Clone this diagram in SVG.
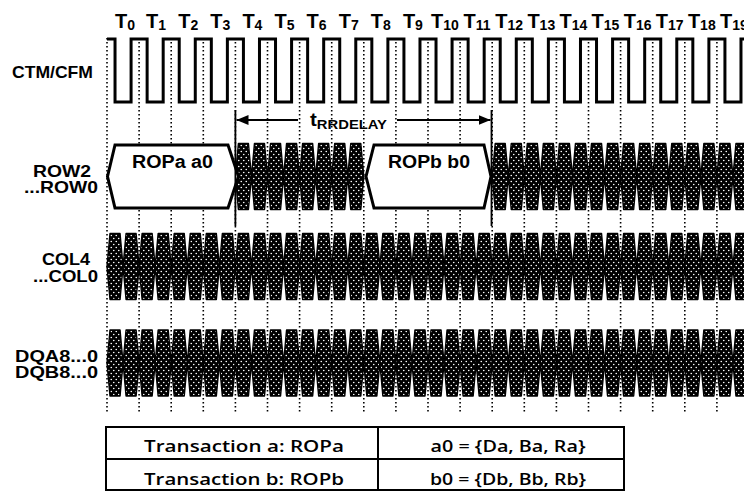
<svg xmlns="http://www.w3.org/2000/svg" width="744" height="492" viewBox="0 0 744 492">
<style>
text{font-family:"Liberation Sans",Arial,sans-serif;font-weight:bold;fill:#000}
.tl{font-size:20px;text-anchor:middle}
.sub{font-size:14px}
.lab{font-size:16.5px;text-anchor:end}
.box{font-size:18px}
.tbl{font-family:"Open Sans","Liberation Sans",sans-serif;font-weight:600;font-size:17px;text-anchor:middle}
.dot{fill:none;stroke:#000;stroke-width:1.6;stroke-dasharray:1.6 2.4}
.clk{fill:none;stroke:#000;stroke-width:3;stroke-linejoin:miter}
.hatch{fill:url(#dots);stroke:#000;stroke-width:1.4;stroke-linejoin:round}
.bus{fill:#fff;stroke:#000;stroke-width:3;stroke-linejoin:miter}
.mark{fill:none;stroke:#000;stroke-width:1.8}
.grid{fill:none;stroke:#000;stroke-width:2}
</style>
<defs>
<pattern id="dots" width="5" height="6" patternUnits="userSpaceOnUse">
<rect width="5" height="6" fill="#000"/>
<circle cx="1.25" cy="1.5" r="0.8" fill="#fff"/>
<circle cx="3.75" cy="4.5" r="0.8" fill="#fff"/>
</pattern>
<marker id="ah" viewBox="0 0 12 10" refX="12" refY="5" markerWidth="12" markerHeight="10" markerUnits="userSpaceOnUse" orient="auto">
<path d="M0,0 L12,5 L0,10 z" fill="#000"/>
</marker>
</defs>
<rect width="744" height="492" fill="#fff"/>

<g id="time-labels">
<text class="tl" x="125" y="28">T<tspan class="sub" dy="1.5">0</tspan></text>
<text class="tl" x="156.1" y="28">T<tspan class="sub" dy="1.5">1</tspan></text>
<text class="tl" x="188.2" y="28">T<tspan class="sub" dy="1.5">2</tspan></text>
<text class="tl" x="220.3" y="28">T<tspan class="sub" dy="1.5">3</tspan></text>
<text class="tl" x="252.4" y="28">T<tspan class="sub" dy="1.5">4</tspan></text>
<text class="tl" x="284.5" y="28">T<tspan class="sub" dy="1.5">5</tspan></text>
<text class="tl" x="316.6" y="28">T<tspan class="sub" dy="1.5">6</tspan></text>
<text class="tl" x="348.7" y="28">T<tspan class="sub" dy="1.5">7</tspan></text>
<text class="tl" x="380.8" y="28">T<tspan class="sub" dy="1.5">8</tspan></text>
<text class="tl" x="412.9" y="28">T<tspan class="sub" dy="1.5">9</tspan></text>
<text class="tl" x="445" y="28">T<tspan class="sub" dy="1.5">10</tspan></text>
<text class="tl" x="477.1" y="28">T<tspan class="sub" dy="1.5">11</tspan></text>
<text class="tl" x="509.2" y="28">T<tspan class="sub" dy="1.5">12</tspan></text>
<text class="tl" x="541.3" y="28">T<tspan class="sub" dy="1.5">13</tspan></text>
<text class="tl" x="573.4" y="28">T<tspan class="sub" dy="1.5">14</tspan></text>
<text class="tl" x="605.5" y="28">T<tspan class="sub" dy="1.5">15</tspan></text>
<text class="tl" x="637.6" y="28">T<tspan class="sub" dy="1.5">16</tspan></text>
<text class="tl" x="669.7" y="28">T<tspan class="sub" dy="1.5">17</tspan></text>
<text class="tl" x="701.8" y="28">T<tspan class="sub" dy="1.5">18</tspan></text>
<text class="tl" x="733.9" y="28">T<tspan class="sub" dy="1.5">19</tspan></text>
</g>

<g id="signal-labels">
<text class="lab" x="93" y="78" textLength="81" lengthAdjust="spacingAndGlyphs">CTM/CFM</text>
<text class="lab" x="91" y="177" textLength="58" lengthAdjust="spacingAndGlyphs">ROW2</text>
<text class="lab" x="98" y="193" textLength="74" lengthAdjust="spacingAndGlyphs">...ROW0</text>
<text class="lab" x="90" y="265" textLength="48" lengthAdjust="spacingAndGlyphs">COL4</text>
<text class="lab" x="98" y="282" textLength="65" lengthAdjust="spacingAndGlyphs">...COL0</text>
<text class="lab" x="98" y="362" textLength="83" lengthAdjust="spacingAndGlyphs">DQA8...0</text>
<text class="lab" x="98" y="378" textLength="83" lengthAdjust="spacingAndGlyphs">DQB8...0</text>
</g>

<g id="grid-lines">
<path class="dot" d="M107,38V414M139.1,38V414M171.2,38V414M203.3,38V414M235.4,38V414M267.5,38V414M299.6,38V414M331.7,38V414M363.8,38V414M395.9,38V414M428,38V414M460.1,38V414M492.2,38V414M524.3,38V414M556.4,38V414M588.5,38V414M620.6,38V414M652.7,38V414M684.8,38V414M716.9,38V414"/>
</g>

<g id="clock">
<path class="clk" d="M107,39 H115.03 V102 H131.08 V39 H147.13 V102 H163.18 V39 H179.23 V102 H195.28 V39 H211.33 V102 H227.38 V39 H243.43 V102 H259.48 V39 H275.53 V102 H291.58 V39 H307.63 V102 H323.68 V39 H339.73 V102 H355.78 V39 H371.83 V102 H387.88 V39 H403.93 V102 H419.98 V39 H436.03 V102 H452.08 V39 H468.13 V102 H484.18 V39 H500.23 V102 H516.28 V39 H532.33 V102 H548.38 V39 H564.43 V102 H580.48 V39 H596.53 V102 H612.58 V39 H628.63 V102 H644.68 V39 H660.73 V102 H676.78 V39 H692.83 V102 H708.88 V39 H724.93 V102 H740.98 V39 H748"/>
</g>

<g id="row-bus">
<path class="hatch" d="M235.4 176.5l3-33h10.05l3 33l-3 33h-10.05zm16.05 0l3-33h10.05l3 33l-3 33h-10.05zm16.05 0l3-33h10.05l3 33l-3 33h-10.05zm16.05 0l3-33h10.05l3 33l-3 33h-10.05zm16.05 0l3-33h10.05l3 33l-3 33h-10.05zm16.05 0l3-33h10.05l3 33l-3 33h-10.05zm16.05 0l3-33h10.05l3 33l-3 33h-10.05zm16.05 0l3-33h10.05l3 33l-3 33h-10.05zM492.2 176.5l3-33h10.05l3 33l-3 33h-10.05zm16.05 0l3-33h10.05l3 33l-3 33h-10.05zm16.05 0l3-33h10.05l3 33l-3 33h-10.05zm16.05 0l3-33h10.05l3 33l-3 33h-10.05zm16.05 0l3-33h10.05l3 33l-3 33h-10.05zm16.05 0l3-33h10.05l3 33l-3 33h-10.05zm16.05 0l3-33h10.05l3 33l-3 33h-10.05zm16.05 0l3-33h10.05l3 33l-3 33h-10.05zm16.05 0l3-33h10.05l3 33l-3 33h-10.05zm16.05 0l3-33h10.05l3 33l-3 33h-10.05zm16.05 0l3-33h10.05l3 33l-3 33h-10.05zm16.05 0l3-33h10.05l3 33l-3 33h-10.05zm16.05 0l3-33h10.05l3 33l-3 33h-10.05zm16.05 0l3-33h10.05l3 33l-3 33h-10.05zm16.05 0l3-33h10.05l3 33l-3 33h-10.05zm16.05 0l3-33h10.05l3 33l-3 33h-10.05z"/>
<g id="ropa">
<path class="bus" d="M107.5,176.5 L115,145 H228 L238.5,176.5 L228,208 H115 Z"/>
<text class="box" x="132" y="168" textLength="81" lengthAdjust="spacingAndGlyphs">ROPa a0</text>
</g>
<g id="ropb">
<path class="bus" d="M366,176.5 L374,145 H484 L491,176.5 L484,208 H374 Z"/>
<text class="box" x="388" y="168" textLength="82" lengthAdjust="spacingAndGlyphs">ROPb b0</text>
</g>
</g>

<g id="col-bus">
<path class="hatch" d="M107 266.5l3-33h10.05l3 33l-3 33h-10.05zm16.05 0l3-33h10.05l3 33l-3 33h-10.05zm16.05 0l3-33h10.05l3 33l-3 33h-10.05zm16.05 0l3-33h10.05l3 33l-3 33h-10.05zm16.05 0l3-33h10.05l3 33l-3 33h-10.05zm16.05 0l3-33h10.05l3 33l-3 33h-10.05zm16.05 0l3-33h10.05l3 33l-3 33h-10.05zm16.05 0l3-33h10.05l3 33l-3 33h-10.05zm16.05 0l3-33h10.05l3 33l-3 33h-10.05zm16.05 0l3-33h10.05l3 33l-3 33h-10.05zm16.05 0l3-33h10.05l3 33l-3 33h-10.05zm16.05 0l3-33h10.05l3 33l-3 33h-10.05zm16.05 0l3-33h10.05l3 33l-3 33h-10.05zm16.05 0l3-33h10.05l3 33l-3 33h-10.05zm16.05 0l3-33h10.05l3 33l-3 33h-10.05zm16.05 0l3-33h10.05l3 33l-3 33h-10.05zm16.05 0l3-33h10.05l3 33l-3 33h-10.05zm16.05 0l3-33h10.05l3 33l-3 33h-10.05zm16.05 0l3-33h10.05l3 33l-3 33h-10.05zm16.05 0l3-33h10.05l3 33l-3 33h-10.05zm16.05 0l3-33h10.05l3 33l-3 33h-10.05zm16.05 0l3-33h10.05l3 33l-3 33h-10.05zm16.05 0l3-33h10.05l3 33l-3 33h-10.05zm16.05 0l3-33h10.05l3 33l-3 33h-10.05zm16.05 0l3-33h10.05l3 33l-3 33h-10.05zm16.05 0l3-33h10.05l3 33l-3 33h-10.05zm16.05 0l3-33h10.05l3 33l-3 33h-10.05zm16.05 0l3-33h10.05l3 33l-3 33h-10.05zm16.05 0l3-33h10.05l3 33l-3 33h-10.05zm16.05 0l3-33h10.05l3 33l-3 33h-10.05zm16.05 0l3-33h10.05l3 33l-3 33h-10.05zm16.05 0l3-33h10.05l3 33l-3 33h-10.05zm16.05 0l3-33h10.05l3 33l-3 33h-10.05zm16.05 0l3-33h10.05l3 33l-3 33h-10.05zm16.05 0l3-33h10.05l3 33l-3 33h-10.05zm16.05 0l3-33h10.05l3 33l-3 33h-10.05zm16.05 0l3-33h10.05l3 33l-3 33h-10.05zm16.05 0l3-33h10.05l3 33l-3 33h-10.05zm16.05 0l3-33h10.05l3 33l-3 33h-10.05zm16.05 0l3-33h10.05l3 33l-3 33h-10.05z"/>
</g>

<g id="dq-bus">
<path class="hatch" d="M107 363l3-33h10.05l3 33l-3 33h-10.05zm16.05 0l3-33h10.05l3 33l-3 33h-10.05zm16.05 0l3-33h10.05l3 33l-3 33h-10.05zm16.05 0l3-33h10.05l3 33l-3 33h-10.05zm16.05 0l3-33h10.05l3 33l-3 33h-10.05zm16.05 0l3-33h10.05l3 33l-3 33h-10.05zm16.05 0l3-33h10.05l3 33l-3 33h-10.05zm16.05 0l3-33h10.05l3 33l-3 33h-10.05zm16.05 0l3-33h10.05l3 33l-3 33h-10.05zm16.05 0l3-33h10.05l3 33l-3 33h-10.05zm16.05 0l3-33h10.05l3 33l-3 33h-10.05zm16.05 0l3-33h10.05l3 33l-3 33h-10.05zm16.05 0l3-33h10.05l3 33l-3 33h-10.05zm16.05 0l3-33h10.05l3 33l-3 33h-10.05zm16.05 0l3-33h10.05l3 33l-3 33h-10.05zm16.05 0l3-33h10.05l3 33l-3 33h-10.05zm16.05 0l3-33h10.05l3 33l-3 33h-10.05zm16.05 0l3-33h10.05l3 33l-3 33h-10.05zm16.05 0l3-33h10.05l3 33l-3 33h-10.05zm16.05 0l3-33h10.05l3 33l-3 33h-10.05zm16.05 0l3-33h10.05l3 33l-3 33h-10.05zm16.05 0l3-33h10.05l3 33l-3 33h-10.05zm16.05 0l3-33h10.05l3 33l-3 33h-10.05zm16.05 0l3-33h10.05l3 33l-3 33h-10.05zm16.05 0l3-33h10.05l3 33l-3 33h-10.05zm16.05 0l3-33h10.05l3 33l-3 33h-10.05zm16.05 0l3-33h10.05l3 33l-3 33h-10.05zm16.05 0l3-33h10.05l3 33l-3 33h-10.05zm16.05 0l3-33h10.05l3 33l-3 33h-10.05zm16.05 0l3-33h10.05l3 33l-3 33h-10.05zm16.05 0l3-33h10.05l3 33l-3 33h-10.05zm16.05 0l3-33h10.05l3 33l-3 33h-10.05zm16.05 0l3-33h10.05l3 33l-3 33h-10.05zm16.05 0l3-33h10.05l3 33l-3 33h-10.05zm16.05 0l3-33h10.05l3 33l-3 33h-10.05zm16.05 0l3-33h10.05l3 33l-3 33h-10.05zm16.05 0l3-33h10.05l3 33l-3 33h-10.05zm16.05 0l3-33h10.05l3 33l-3 33h-10.05zm16.05 0l3-33h10.05l3 33l-3 33h-10.05zm16.05 0l3-33h10.05l3 33l-3 33h-10.05z"/>
</g>

<g id="connectors">
<path class="mark" d="M235.4,110V226M491.5,110V226"/>
<path class="mark" stroke-width="2" marker-end="url(#ah)" d="M298,120H236.5"/>
<path class="mark" stroke-width="2" marker-end="url(#ah)" d="M397,120H490.5"/>
<text x="310" y="126" textLength="77" lengthAdjust="spacingAndGlyphs"><tspan font-size="18">t</tspan><tspan font-size="13" dy="3">RRDELAY</tspan></text>
</g>

<g id="table">
<rect class="grid" x="106" y="427" width="518" height="63"/>
<path class="grid" d="M106,459H624M378,427V490"/>
<text class="tbl" x="244" y="452" textLength="200" lengthAdjust="spacingAndGlyphs">Transaction a: ROPa</text>
<text class="tbl" x="244" y="485" textLength="200" lengthAdjust="spacingAndGlyphs">Transaction b: ROPb</text>
<text class="tbl" x="508" y="452" textLength="155" lengthAdjust="spacingAndGlyphs">a0 = {Da, Ba, Ra}</text>
<text class="tbl" x="508" y="485" textLength="156" lengthAdjust="spacingAndGlyphs">b0 = {Db, Bb, Rb}</text>
</g>
</svg>
